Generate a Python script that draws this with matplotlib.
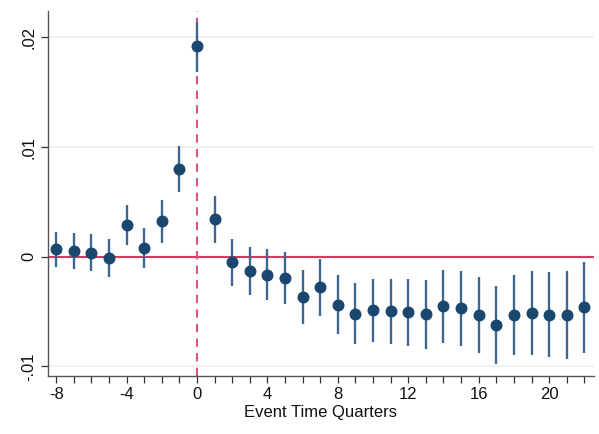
import matplotlib
matplotlib.use("Agg")
import matplotlib.pyplot as plt
import numpy as np

plt.rcParams["font.family"] = ["Liberation Sans", "DejaVu Sans"]
plt.rcParams["axes.unicode_minus"] = False

# Event-study coefficients with 95% confidence bounds
quarters = list(range(-8, 23))
coef = [0.00067, 0.00049, 0.00031, -0.00012, 0.00286, 0.00082, 0.00323, 0.00802,
        0.0192, 0.00344, -0.00051, -0.0013, -0.00164, -0.00194, -0.00365, -0.00279,
        -0.00438, -0.0052, -0.00486, -0.00495, -0.00507, -0.00525, -0.00452, -0.0047,
        -0.00531, -0.0062, -0.00531, -0.00516, -0.00528, -0.00535, -0.00462]
ci_upper = [0.00228, 0.00213, 0.00204, 0.00159, 0.00469, 0.00264, 0.00514, 0.01012,
            0.02142, 0.00553, 0.00161, 0.00091, 0.00067, 0.00046, -0.00121, -0.00021,
            -0.00171, -0.00239, -0.002, -0.002, -0.002, -0.00212, -0.00124, -0.00133,
            -0.00188, -0.00267, -0.00167, -0.00133, -0.00139, -0.00133, -0.00051]
ci_lower = [-0.00091, -0.00115, -0.00133, -0.00182, 0.00107, -0.001, 0.00128, 0.00593,
            0.01686, 0.00128, -0.00267, -0.00352, -0.00395, -0.00434, -0.00616, -0.00541,
            -0.00708, -0.00799, -0.00775, -0.00793, -0.00814, -0.00845, -0.00784, -0.00811,
            -0.00881, -0.00975, -0.00899, -0.00893, -0.00917, -0.00936, -0.00875]
x_ticks = [-8, -4, 0, 4, 8, 12, 16, 20]
y_ticks = [-0.01, 0.0, 0.01, 0.02]
y_tick_labels = ["-.01", "0", ".01", ".02"]
x_title = "Event Time Quarters"

fig = plt.figure(figsize=(5.99, 4.34), dpi=100)
ax = fig.add_axes([0.0796, 0.1343, 0.9121, 0.8404])

ax.set_xlim(-8.48, 22.55)
ax.set_ylim(-0.01085, 0.0224)

# light horizontal gridlines
for yv in y_ticks:
    ax.axhline(yv, color="#eaf0f2", lw=1.2, zorder=0)

ax.axhline(0, color="#d33c5e", lw=1.5, zorder=1)
ax.axvline(0, color="#d8577a", lw=1.5, ls=(0, (4, 3)), zorder=1)

ax.vlines(quarters, ci_lower, ci_upper, color="#3d6790", lw=1.7, zorder=2)
ax.plot(quarters, coef, "o", color="#1a476f", ms=7.6, mec="#1a476f", zorder=3)

for s in ["top", "right"]:
    ax.spines[s].set_visible(False)
for s in ["left", "bottom"]:
    ax.spines[s].set_color("#555555")
    ax.spines[s].set_linewidth(1.0)

ax.set_xticks(x_ticks)
ax.set_xticks(quarters, minor=True)
ax.set_yticks(y_ticks)
ax.set_yticklabels(y_tick_labels, rotation=90, va="center")
ax.tick_params(axis="both", which="both", length=5, width=0.9, color="#333333",
               labelsize=12, labelcolor="#111111")
ax.tick_params(axis="x", pad=3)
ax.tick_params(axis="y", pad=3)
ax.set_xlabel(x_title, fontsize=12, color="#111111", labelpad=2)

fig.savefig("out.png", dpi=100)
